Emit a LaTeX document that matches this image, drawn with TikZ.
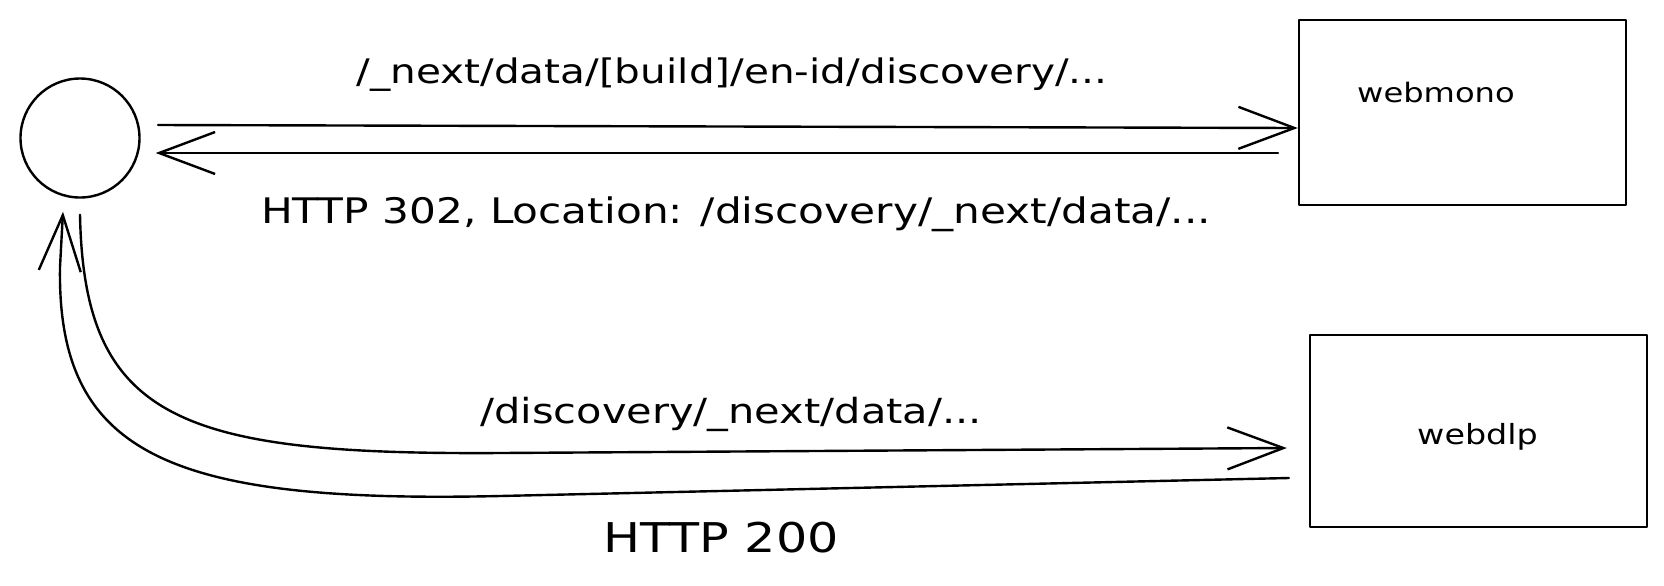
\documentclass[tikz,border=0pt]{standalone}
\usepackage{fontspec}
\setmainfont{DejaVu Sans}[FakeStretch=1.2]
\usetikzlibrary{arrows.meta,calc}
\tikzset{
  stroke/.style={line width=1.2pt, draw=black, line cap=round, line join=round},
  arr/.style={stroke, -{Straight Barb[length=28pt,width=21pt,line width=1.2pt]}},
  boxnode/.style={stroke, rectangle, inner sep=0pt},
  lbl/.style={inner sep=0pt, anchor=base, text=black},
}
\begin{document}
\begin{tikzpicture}[x=0.5pt,y=-0.5pt]
\useasboundingbox (0,0) rectangle (1664,585);
% nodes
\node[stroke, circle, minimum size=59.5pt, inner sep=0pt] (c) at (80,138) {};
\node[boxnode, minimum width=163.5pt, minimum height=92.5pt] (m) at (1462.5,112.5) {};
\node[boxnode, minimum width=168.5pt, minimum height=96pt] (d) at (1478.5,431) {};
\node[lbl, font=\fontsize{13.4}{16}\selectfont] (mlabel) at (1436,102) {webmono};
\node[lbl, font=\fontsize{13.9}{16}\selectfont] (dlabel) at (1477.5,444) {webdlp};
% edge labels
\node[lbl, font=\fontsize{16.9}{20}\selectfont] (l1) at (732,83) {/\_next/data/[build]/en-id/discovery/...};
\node[lbl, font=\fontsize{17.6}{20}\selectfont] (l2) at (736,223) {HTTP 302, Location: /discovery/\_next/data/...};
\node[lbl, font=\fontsize{17.3}{20}\selectfont] (l3) at (731,423) {/discovery/\_next/data/...};
\node[lbl, font=\fontsize{20.5}{22}\selectfont] (l4) at (721,552) {HTTP 200};
% free ends
\coordinate (a1) at (158,125);
\coordinate (a2) at ($(m.west)+(0,15.5)$);
\coordinate (b1) at (1278,153);
\coordinate (b2) at ($(c.east)+(15,15)$);
\coordinate (i0) at ($(c.south)+(0,16)$);
\coordinate (i1) at ($(d.west)+(-22,17)$);
\coordinate (o0) at ($(d.west)+(-20,47)$);
\coordinate (o1) at ($(c.south)+(-17,13)$);
% connectors
\draw[arr] (a1) -- (a2);
\draw[arr] (b1) -- (b2);
\draw[arr] (i0) .. controls (84,420) and (180,455) .. (500,453) -- (i1);
\draw[arr] (o0) -- (500,496) .. controls (170,503.5) and (57,455) .. (60,267) -- (o1);
\end{tikzpicture}
\end{document}
